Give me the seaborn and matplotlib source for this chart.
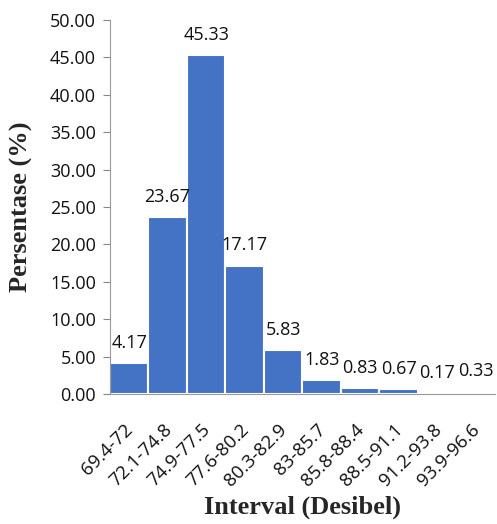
import matplotlib
matplotlib.use("Agg")
import matplotlib.pyplot as plt
import matplotlib.transforms as mtransforms
import seaborn as sns
import pandas as pd
from matplotlib.ticker import FormatStrFormatter

categories = ["69.4-72", "72.1-74.8", "74.9-77.5", "77.6-80.2", "80.3-82.9",
              "83-85.7", "85.8-88.4", "88.5-91.1", "91.2-93.8", "93.9-96.6"]
values = [4.17, 23.67, 45.33, 17.17, 5.83, 1.83, 0.83, 0.67, 0.17, 0.33]
yticks = [0, 5, 10, 15, 20, 25, 30, 35, 40, 45, 50]

sns.set_theme(style="white")
plt.rcParams['font.family'] = ['Open Sans', 'DejaVu Sans']

df = pd.DataFrame({"Interval": categories, "Persentase": values})

fig = plt.figure(figsize=(4.97, 5.24), dpi=100)
ax = fig.add_axes([0.221, 0.248, 0.775, 0.714])

sns.barplot(data=df, x="Interval", y="Persentase", color="#4472C4",
            width=1.0, edgecolor="white", linewidth=1.5, saturation=1, ax=ax)

for i, v in enumerate(values):
    ax.annotate(f"{v:.2f}", xy=(i, v), xytext=(0, 8), textcoords="offset points",
                ha="center", va="bottom", fontsize=13, color="#111111")

ax.set_ylim(0, 50)
ax.set_xlim(-0.5, len(categories) - 0.5)
ax.set_yticks(yticks)
ax.yaxis.set_major_formatter(FormatStrFormatter("%.2f"))
ax.tick_params(axis="y", labelsize=13, length=5, width=0.8, color="#888888",
               direction="out", left=True, pad=5, labelcolor="#111111")
ax.tick_params(axis="x", labelsize=13.5, length=0, pad=19, labelcolor="#111111")
offset = mtransforms.ScaledTranslation(-0.05, 0, fig.dpi_scale_trans)
for lab in ax.get_xticklabels():
    lab.set_rotation(45)
    lab.set_ha("right")
    lab.set_rotation_mode("anchor")
    lab.set_transform(lab.get_transform() + offset)

for s in ["top", "right"]:
    ax.spines[s].set_visible(False)
for s in ["left", "bottom"]:
    ax.spines[s].set_color("#9a9a9a")
    ax.spines[s].set_linewidth(0.8)

ax.set_xlabel("Interval (Desibel)", fontsize=19, fontweight="bold",
              family=["Liberation Serif"])
ax.set_ylabel("Persentase (%)", fontsize=19, fontweight="bold",
              family=["Liberation Serif"])
ax.xaxis.label.set_va("center")
ax.yaxis.label.set_va("center")
ax.xaxis.set_label_coords(0.5, -0.302)
ax.yaxis.set_label_coords(-0.229, 0.5)

fig.savefig("out.png", dpi=100)
